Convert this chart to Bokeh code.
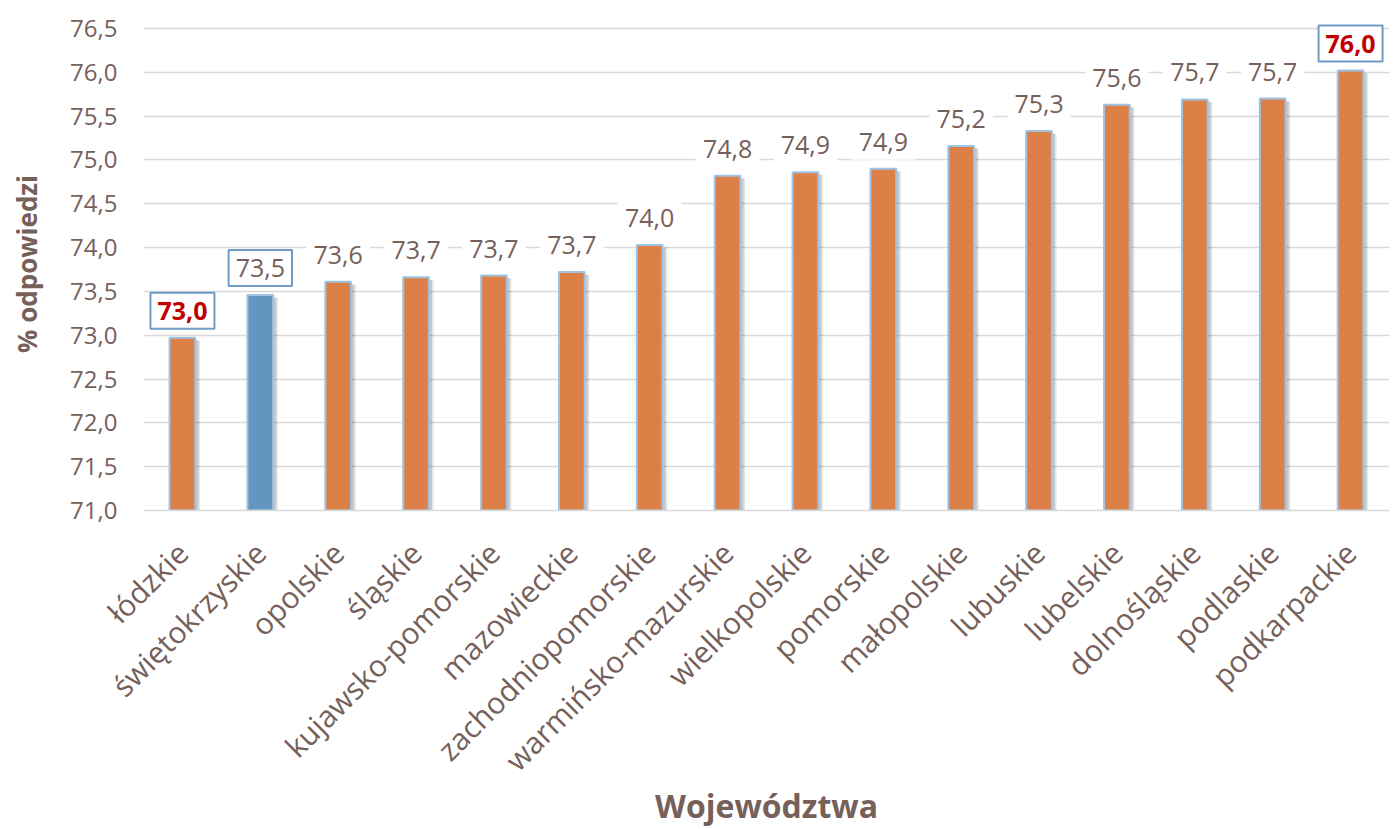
from bokeh.plotting import figure
from bokeh.models import ColumnDataSource, Range1d, FixedTicker, Label, LinearAxis
from bokeh.transform import dodge
from bokeh.embed import file_html
from bokeh.resources import INLINE
import math

categories = ["łódzkie", "świętokrzyskie", "opolskie", "śląskie", "kujawsko-pomorskie",
              "mazowieckie", "zachodniopomorskie", "warmińsko-mazurskie", "wielkopolskie",
              "pomorskie", "małopolskie", "lubuskie", "lubelskie", "dolnośląskie",
              "podlaskie", "podkarpackie"]
values = [72.97, 73.46, 73.61, 73.66, 73.68, 73.72, 74.03, 74.82, 74.86, 74.90,
          75.16, 75.33, 75.63, 75.69, 75.70, 76.02]
highlight = "świętokrzyskie"
y_ticks = [71.0, 71.5, 72.0, 72.5, 73.0, 73.5, 74.0, 74.5, 75.0, 75.5, 76.0, 76.5]
y_tick_labels = ["71,0", "71,5", "72,0", "72,5", "73,0", "73,5", "74,0", "74,5",
                 "75,0", "75,5", "76,0", "76,5"]
x_title = "Województwa"
y_title = "% odpowiedzi"

FONT = "Open Sans"
BROWN = "#76605a"
ORANGE = "#dd8047"
BLUE = "#6495c1"
OUTLINE = "#9dc3e6"
BOXLINE = "#6f9cc6"
RED = "#c00000"

labels = [f"{v:.1f}".replace(".", ",") for v in values]
colors = [BLUE if c == highlight else ORANGE for c in categories]
vmin, vmax = min(values), max(values)

src = ColumnDataSource(dict(cat=categories, val=values, col=colors,
                            shadow=[v - 0.03 for v in values]))

# range extends a little above the last gridline so the top label box is not clipped
p = figure(x_range=categories, y_range=Range1d(71, 76.625), width=1392, height=829,
           output_backend="svg", toolbar_location=None,
           min_border_left=143, min_border_right=3, min_border_top=17, min_border_bottom=319)
p.outline_line_color = None
p.background_fill_color = "white"

# shadow
p.vbar(x=dodge("cat", 0.06, range=p.x_range), top="shadow", bottom=70.9, width=0.33,
       fill_color="black", fill_alpha=0.10, line_color=None, source=src)
p.vbar(x=dodge("cat", 0.04, range=p.x_range), top="shadow", bottom=70.9, width=0.33,
       fill_color="black", fill_alpha=0.12, line_color=None, source=src)
p.vbar(x="cat", top="val", bottom=71, width=0.33, fill_color="col", line_color=OUTLINE,
       line_width=2, source=src)

p.ygrid.grid_line_color = "#d9d9d9"
p.ygrid.grid_line_width = 1.5
p.xgrid.grid_line_color = None

p.yaxis.ticker = FixedTicker(ticks=y_ticks)
p.yaxis.major_label_overrides = {t: l for t, l in zip(y_ticks, y_tick_labels)}
p.yaxis.axis_line_color = None
p.yaxis.major_tick_line_color = None
p.yaxis.minor_tick_line_color = None
p.yaxis.major_label_text_font = FONT
p.yaxis.major_label_text_font_size = "24px"
p.yaxis.major_label_text_color = BROWN
p.yaxis.major_label_standoff = 20

# y title carried by an outer tick-less axis whose bounds cover the upper part
title_axis = LinearAxis(ticker=FixedTicker(ticks=[]), bounds=(74.6, 76.55),
                        axis_label=y_title, axis_label_standoff=23,
                        axis_label_text_font=FONT, axis_label_text_font_size="26px",
                        axis_label_text_font_style="bold", axis_label_text_color=BROWN,
                        axis_line_color=None, major_tick_line_color=None,
                        minor_tick_line_color=None, major_label_text_font_size="0px")
p.add_layout(title_axis, "left")

p.xaxis.axis_line_color = "#d9d9d9"
p.xaxis.axis_line_width = 1.5
p.xaxis.major_tick_line_color = None
p.xaxis.minor_tick_line_color = None
p.xaxis.major_label_orientation = math.pi / 4
p.xaxis.major_label_text_font = FONT
p.xaxis.major_label_text_font_size = "30px"
p.xaxis.major_label_text_color = BROWN
p.xaxis.major_label_standoff = 31
p.xaxis.axis_label = x_title
p.xaxis.axis_label_text_font = FONT
p.xaxis.axis_label_text_font_size = "32px"
p.xaxis.axis_label_text_font_style = "bold"
p.xaxis.axis_label_text_color = BROWN
p.xaxis.axis_label_standoff = -13

for i, (c, v, lab) in enumerate(zip(categories, values, labels)):
    boxed = (v == vmin) or (v == vmax) or (c == highlight)
    red = (v == vmin) or (v == vmax)
    p.add_layout(Label(x=i + 0.5, y=v, y_offset=27, text=lab, text_align="center",
                       text_baseline="middle", text_font=FONT, text_font_size="25px",
                       text_font_style="bold" if red else "normal",
                       text_color=RED if red else BROWN,
                       background_fill_color="white",
                       border_line_color=BOXLINE if boxed else None,
                       border_line_width=2,
                       padding=(7, 9)))

open("out.html", "w").write(file_html(p, INLINE))
